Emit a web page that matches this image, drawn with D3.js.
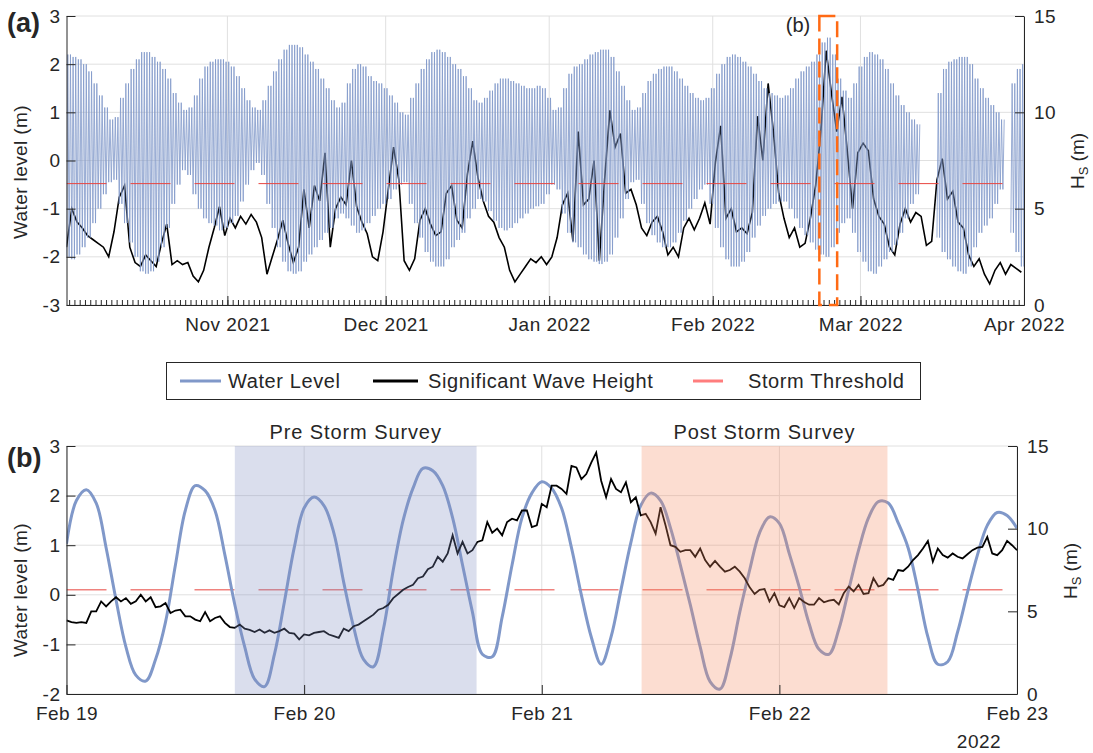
<html>
<head>
<script src="https://d3js.org/d3.v7.min.js"></script>
<style>
  body { margin: 0; background: #fff; }
  svg text { font-family: "Liberation Sans", Arial, Helvetica, sans-serif; fill: #262626; }
</style>
</head>
<body>
<div id="chart"></div>
<script>
// ---------------- data ----------------
// panel (a): one value per day, first day = 1 Oct 2021 12:00
var dailyStart = "2021-10-01T12:00";
var wlHigh = [
  2.2, 2.15, 2.1, 2.0, 1.85, 1.6, 1.35, 1.1, 0.85, 0.9,
  1.3, 1.6, 1.9, 2.1, 2.25, 2.25, 2.15, 2.05, 1.9, 1.7,
  1.4, 1.2, 1.05, 1.1, 1.35, 1.7, 1.95, 2.05, 2.1, 2.1,
  2.05, 1.95, 1.75, 1.5, 1.25, 1.1, 1.05, 1.25, 1.55, 1.85,
  2.1, 2.3, 2.4, 2.4, 2.35, 2.2, 2.05, 1.9, 1.7, 1.5,
  1.25, 1.1, 1.2, 1.6, 1.9, 2.0, 1.95, 1.75, 1.65, 1.6,
  1.5, 1.35, 1.2, 1.0, 0.95, 1.3, 1.6, 1.9, 2.1, 2.25,
  2.3, 2.25, 2.15, 2.0, 1.9, 1.75, 1.5, 1.25, 1.2, 1.3,
  1.45, 1.6, 1.7, 1.7, 1.65, 1.6, 1.55, 1.5, 1.5, 1.55,
  1.5, 1.3, 1.05, 1.1, 1.5, 1.8, 1.95, 2.0, 2.1, 2.2,
  2.25, 2.3, 2.3, 2.15, 1.85, 1.55, 1.25, 1.05, 1.1, 1.4,
  1.65, 1.8, 1.9, 1.95, 1.95, 1.85, 1.7, 1.55, 1.4, 1.3,
  1.25, 1.3, 1.5, 1.8, 2.0, 2.15, 2.2, 2.15, 2.05, 1.95,
  1.8, 1.65, 1.5, 1.4, 1.35, 1.3, 1.35, 1.5, 1.7, 1.85,
  1.95, 2.05, 2.2, 2.45, 2.55, 2.2, 1.7, 1.45, 1.3, 1.6,
  1.95, 2.15, 2.25, 2.2, 2.1, 1.9, 1.6, 1.35, 1.15, 1.0,
  0.85, 0.75, null, null, null, 1.4, 1.9, 2.05, 2.1, 2.15,
  2.15, 2.0, 1.7, 1.5, 1.3, 1.15, 1.0, 0.85, null, 1.6,
  1.9, 2.0
];
var wlLow = [
  -2.0, -2.05, -1.95, -1.8, -1.6, -1.3, -1.0, -0.7, -0.45, -0.4,
  -0.9, -1.3, -1.7, -2.0, -2.3, -2.35, -2.3, -2.1, -1.8, -1.4,
  -0.9, -0.5, -0.2, -0.3, -0.7, -1.0, -1.2, -1.3, -1.35, -1.45,
  -1.4, -1.3, -1.15, -0.85, -0.5, -0.2, -0.05, -0.3, -0.9, -1.4,
  -1.8, -2.1, -2.3, -2.35, -2.3, -2.1, -1.95, -1.8, -1.65, -1.5,
  -1.4, -1.2, -1.1, -1.2, -1.35, -1.5, -1.45, -1.3, -1.15, -1.0,
  -0.9, -0.8, -0.6, -0.5, -0.45, -0.9, -1.3, -1.6, -1.9, -2.1,
  -2.2, -2.2, -2.05, -1.8, -1.65, -1.5, -1.2, -1.0, -0.8, -0.85,
  -1.05, -1.25, -1.4, -1.45, -1.4, -1.3, -1.2, -1.1, -1.0, -0.95,
  -0.9, -0.7, -0.5, -0.6, -1.1, -1.5, -1.7, -1.8, -1.95, -2.05,
  -2.1, -2.15, -2.1, -1.95, -1.6, -1.2, -0.8, -0.45, -0.4, -0.9,
  -1.3, -1.55, -1.7, -1.8, -1.8, -1.7, -1.5, -1.25, -1.0, -0.8,
  -0.6, -0.5, -0.9, -1.4, -1.8, -2.05, -2.2, -2.2, -2.1, -1.9,
  -1.6, -1.35, -1.15, -1.0, -0.9, -0.85, -0.85, -1.0, -1.2, -1.4,
  -1.55, -1.7, -1.85, -1.95, -2.0, -1.8, -1.5, -1.3, -1.2, -1.5,
  -1.9, -2.1, -2.3, -2.35, -2.2, -2.05, -1.9, -1.75, -1.5, -1.2,
  -0.9, -0.7, null, null, null, -1.6, -1.9, -2.05, -2.2, -2.3,
  -2.35, -2.2, -1.8, -1.5, -1.35, -1.2, -0.9, -0.6, null, -1.5,
  -1.9, -2.2
];
var hsDaily = [
  3.0, 5.0, 4.3, 4.0, 3.6, 3.4, 3.2, 3.0, 2.5, 3.8,
  5.6, 6.2, 3.0, 2.2, 2.0, 2.6, 2.3, 2.0, 3.2, 4.2,
  2.1, 2.3, 2.1, 2.2, 1.5, 1.2, 1.8, 3.0, 4.0, 5.1,
  3.6, 4.5, 4.0, 4.6, 4.2, 4.7, 4.3, 3.5, 1.6, 2.5,
  3.4, 4.4, 3.2, 2.2, 3.0, 6.0, 4.0, 6.2, 5.4, 7.9,
  3.0, 5.0, 5.6, 5.2, 7.5, 5.1, 4.3, 3.7, 2.5, 2.3,
  3.8, 6.0, 8.2, 6.5, 2.3, 1.8, 2.4, 4.4, 5.0, 4.2,
  3.6, 3.8, 5.8, 6.2, 4.4, 4.0, 6.8, 8.5, 6.6, 5.4,
  4.6, 4.3, 3.5, 3.0, 1.8, 1.2, 1.6, 2.0, 2.4, 2.2,
  2.5, 2.1, 2.5, 3.5, 5.2, 5.8, 3.3, 9.0, 5.2, 5.5,
  7.5, 2.3, 6.5, 10.1, 8.2, 8.9, 5.8, 6.0, 5.2, 4.0,
  3.6, 4.3, 4.6, 3.8, 2.6, 3.0, 2.5, 4.0, 4.5, 3.9,
  4.5, 5.3, 4.2, 7.4, 9.3, 4.5, 5.0, 3.8, 4.0, 3.7,
  4.8, 9.8, 7.5, 11.5, 9.0, 5.8, 4.5, 3.5, 4.0, 3.0,
  3.2, 4.5, 6.2, 9.0, 13.2, 11.0, 9.0, 10.8, 8.0, 5.0,
  7.9, 8.4, 8.0, 5.5, 4.6, 4.2, 3.0, 2.6, 4.2, 5.0,
  4.3, 4.8, 4.6, 3.1, 3.3, 6.5, 7.6, 5.5, 5.9, 4.3,
  4.0, 2.6, 2.0, 2.4, 1.6, 1.1, 1.8, 2.2, 1.6, 2.1,
  1.9, 1.7
];
var rangeA = ["2021-10-01T12:00", "2022-04-01T00:00"];
var boxB = ["2022-02-21T05:00", "2022-02-24T14:00"];

// panel (b): hourly water level and half-hourly Hs from 19 Feb 2022 00:00
var zoomStart = "2022-02-19T00:00";
var wlHourly = [
  1.03, 1.9, 2.12, 1.85, 0.95, -0.1, -1.05, -1.62, -1.74, -1.3,
  -0.55, 0.6, 1.7, 2.2, 2.1, 1.7, 0.8, -0.2, -1.05, -1.7,
  -1.85, -1.2, -0.15, 0.95, 1.75, 1.97, 1.8, 1.25, 0.25, -0.65,
  -1.3, -1.45, -0.7, 0.5, 1.5, 2.15, 2.55, 2.5, 2.2, 1.55,
  0.6, -0.35, -1.2, -1.25, -0.45, 0.6, 1.55, 2.05, 2.28, 2.15,
  1.75, 0.95, 0.0, -0.85, -1.4, -0.85, 0.1, 1.05, 1.8, 2.05,
  1.9, 1.35, 0.6, -0.2, -1.05, -1.75, -1.9, -1.3, -0.35, 0.5,
  1.25, 1.57, 1.44, 0.83, 0.16, -0.58, -1.1, -1.2, -0.7, 0.1,
  0.9, 1.55, 1.88, 1.85, 1.45, 0.95, 0.1, -0.85, -1.4, -1.35,
  -0.75, 0.05, 0.8, 1.4, 1.66, 1.6, 1.34
];
var hsHalfHourly = [
  4.45, 4.35, 4.3, 4.35, 4.3, 5.0, 5.0, 5.6, 5.3, 5.6,
  5.85, 5.6, 5.8, 5.45, 5.6, 6.0, 5.6, 5.85, 5.25, 5.3,
  5.5, 4.9, 5.05, 5.1, 4.7, 4.7, 4.5, 4.4, 4.95, 4.4,
  4.6, 4.7, 4.3, 4.05, 4.0, 4.2, 3.95, 3.88, 3.75, 3.9,
  3.7, 3.85, 3.7, 3.8, 3.95, 3.7, 3.65, 3.3, 3.6, 3.55,
  3.7, 3.75, 3.8, 3.6, 3.5, 3.4, 3.95, 3.8, 4.1, 4.2,
  4.4, 4.6, 4.8, 5.1, 5.2, 5.4, 5.8, 6.05, 6.3, 6.47,
  6.6, 7.0, 7.1, 7.55, 7.7, 8.3, 8.0, 8.5, 9.6, 8.5,
  9.2, 8.5, 8.7, 9.2, 9.3, 10.4, 9.75, 10.0, 9.6, 10.4,
  10.6, 10.5, 11.1, 11.1, 10.1, 10.2, 11.5, 11.3, 12.6, 12.6,
  12.4, 12.1, 13.8, 13.7, 13.0, 13.3, 14.0, 14.6, 12.9, 11.9,
  13.0, 12.4, 12.2, 12.8, 11.6, 11.9, 10.8, 10.9, 10.4, 9.7,
  11.3, 10.2, 9.0, 8.9, 8.6, 8.7, 8.7, 8.3, 8.8, 8.1,
  7.7, 8.05, 7.7, 7.4, 7.5, 7.7, 7.4, 7.0, 6.45, 6.05,
  6.3, 6.35, 5.6, 6.1, 5.36, 5.26, 5.8, 5.2, 5.8, 5.57,
  5.4, 5.4, 5.8, 5.55, 5.65, 5.7, 5.42, 6.1, 6.5, 6.2,
  6.6, 6.05, 6.1, 7.0, 6.5, 6.6, 7.0, 6.9, 7.5, 7.44,
  7.7, 8.1, 8.4, 8.8, 9.26, 8.0, 8.8, 8.4, 8.25, 8.5,
  8.3, 8.2, 8.45, 8.7, 8.85, 8.9, 9.5, 8.5, 8.4, 8.7,
  9.26, 9.0, 8.7
];
var rangeB = ["2022-02-19T00:00", "2022-02-23T00:00"];
var surveyNames = ["Pre Storm Survey", "Post Storm Survey"];
var surveyStart = ["2022-02-19T17:00", "2022-02-21T10:05"];
var surveyEnd = ["2022-02-20T17:25", "2022-02-22T10:55"];
var stormThreshold = 6.3;

var ticksLeftA = [-3, -2, -1, 0, 1, 2, 3];
var ticksLeftB = [-2, -1, 0, 1, 2, 3];
var ticksRight = [0, 5, 10, 15];
var legendNames = ["Water Level", "Significant Wave Height", "Storm Threshold"];

// ---------------- drawing ----------------
var INK = "#262626", GRID = "#e0e0e0", BLUE = "#8098c9", RED = "#e8453f";
var parseT = d3.timeParse("%Y-%m-%dT%H:%M");

var svg = d3.select("#chart").append("svg")
    .attr("width", 1093).attr("height", 753);

function styleAxis(g, fs) {
  g.attr("font-family", null).attr("font-size", null);
  g.select(".domain").attr("stroke", INK);
  g.selectAll(".tick line").attr("stroke", INK);
  g.selectAll(".tick text").attr("fill", INK)
    .style("font-size", fs + "px").style("letter-spacing", "0.5px");
}

function hsLabel(x, y) {
  var t = svg.append("text")
      .attr("transform", "translate(" + x + "," + y + ") rotate(-90)")
      .attr("text-anchor", "middle")
      .style("font-size", "19px");
  t.append("tspan").text("H");
  t.append("tspan").text("S").style("font-size", "13px").attr("dy", 4);
  t.append("tspan").text(" (m)").attr("dy", -4);
}

// ====== panel (a) ======
var A = {left: 66.5, right: 1024, top: 16, bottom: 305};
var xA = d3.scaleTime().domain(rangeA.map(parseT)).range([A.left, A.right]);
var yA = d3.scaleLinear().domain([-3, 3]).range([A.bottom, A.top]);
var hA = d3.scaleLinear().domain([0, 15]).range([A.bottom, A.top]);

svg.append("clipPath").attr("id", "clipA").append("rect")
  .attr("x", A.left).attr("y", A.top).attr("width", A.right - A.left).attr("height", A.bottom - A.top);

var gA = svg.append("g");
// grid
gA.selectAll(".hg").data(ticksLeftA).enter().append("line")
  .attr("x1", A.left).attr("x2", A.right)
  .attr("y1", function(d){ return yA(d); }).attr("y2", function(d){ return yA(d); })
  .attr("stroke", GRID);
gA.selectAll(".vg").data(xA.ticks(d3.timeMonth)).enter().append("line")
  .attr("x1", function(d){ return xA(d); }).attr("x2", function(d){ return xA(d); })
  .attr("y1", A.top).attr("y2", A.bottom)
  .attr("stroke", GRID);

var t0A = parseT(dailyStart);
var plotA = gA.append("g").attr("clip-path", "url(#clipA)");

// wave height first, partly hidden by the tide strokes
plotA.append("path").datum(hsDaily)
  .attr("fill", "none").attr("stroke", "#000").attr("stroke-width", 1.6)
  .attr("d", d3.line()
    .x(function(d, i){ return xA(d3.timeHour.offset(t0A, i * 24)); })
    .y(function(d){ return hA(d); }));

// water level: low / high / low / high each day
var wlPts = [];
wlHigh.forEach(function(hi, i) {
  var lo = wlLow[i];
  [lo, hi, lo, hi].forEach(function(v, k) {
    wlPts.push({t: d3.timeHour.offset(t0A, i * 24 + k * 6), v: v});
  });
});
plotA.append("path").datum(wlPts)
  .attr("fill", "none").attr("stroke", BLUE).attr("stroke-width", 0.8)
  .attr("d", d3.line().defined(function(d){ return d.v != null; })
    .x(function(d){ return xA(d.t); }).y(function(d){ return yA(d.v); }));

plotA.append("line")
  .attr("x1", A.left).attr("x2", A.right)
  .attr("y1", hA(stormThreshold)).attr("y2", hA(stormThreshold))
  .attr("stroke", RED).attr("stroke-width", 1).attr("stroke-dasharray", "40,24");

// axes
var axA = gA.append("g").attr("transform", "translate(0," + A.bottom + ")")
  .call(d3.axisBottom(xA).ticks(d3.timeDay).tickSize(-5).tickSizeOuter(0).tickFormat(""));
styleAxis(axA, 19);
var axA2 = gA.append("g").attr("transform", "translate(0," + A.bottom + ")")
  .call(d3.axisBottom(xA).ticks(d3.timeMonth).tickSize(-9).tickSizeOuter(0)
    .tickPadding(13).tickFormat(d3.timeFormat("%b %Y")));
styleAxis(axA2, 19);
var ayA = gA.append("g").attr("transform", "translate(" + A.left + ",0)")
  .call(d3.axisLeft(yA).tickValues(ticksLeftA).tickSize(-9).tickSizeOuter(0).tickPadding(6)
    .tickFormat(function(d){ return String(d); }));
styleAxis(ayA, 19);
var arA = gA.append("g").attr("transform", "translate(" + A.right + ",0)")
  .call(d3.axisRight(hA).tickValues(ticksRight).tickSize(-9).tickSizeOuter(0).tickPadding(10));
styleAxis(arA, 19);

// survey window box
gA.append("rect")
  .attr("x", xA(parseT(boxB[0]))).attr("y", A.top)
  .attr("width", xA(parseT(boxB[1])) - xA(parseT(boxB[0]))).attr("height", A.bottom - A.top)
  .attr("fill", "none").attr("stroke", "#ff6a14").attr("stroke-width", 2.5)
  .attr("stroke-dasharray", "16,7");
svg.append("text").attr("x", 798).attr("y", 32).attr("text-anchor", "middle")
  .style("font-size", "20px").text("(b)");

svg.append("text").attr("x", 7).attr("y", 32)
  .style("font-size", "27px").style("font-weight", "bold").text("(a)");
svg.append("text").attr("transform", "translate(27,172) rotate(-90)")
  .attr("text-anchor", "middle").style("font-size", "19px").style("letter-spacing", "0.4px")
  .text("Water level (m)");
hsLabel(1084, 161);

// ====== legend ======
var lg = svg.append("g");
lg.append("rect").attr("x", 166.5).attr("y", 362.5).attr("width", 754).attr("height", 37)
  .attr("fill", "#fff").attr("stroke", INK).attr("stroke-width", 1);
var legendX = [[180, 221, 228], [373, 418, 428], [693, 723, 748]];
var legendCol = [BLUE, "#000", "#ff7d7d"];
legendNames.forEach(function(name, i) {
  lg.append("line").attr("x1", legendX[i][0]).attr("x2", legendX[i][1])
    .attr("y1", 381).attr("y2", 381).attr("stroke", legendCol[i]).attr("stroke-width", 3);
  lg.append("text").attr("x", legendX[i][2]).attr("y", 388)
    .style("font-size", "20px").style("letter-spacing", "0.6px").text(name);
});

// ====== panel (b) ======
var B = {left: 66.5, right: 1017, top: 446, bottom: 694};
var xB = d3.scaleTime().domain(rangeB.map(parseT)).range([B.left, B.right]);
var yB = d3.scaleLinear().domain([-2, 3]).range([B.bottom, B.top]);
var hB = d3.scaleLinear().domain([0, 15]).range([B.bottom, B.top]);
var t0B = parseT(zoomStart);

svg.append("clipPath").attr("id", "clipB").append("rect")
  .attr("x", B.left).attr("y", B.top).attr("width", B.right - B.left).attr("height", B.bottom - B.top);

var gB = svg.append("g");
gB.selectAll(".hg").data(ticksLeftB).enter().append("line")
  .attr("x1", B.left).attr("x2", B.right)
  .attr("y1", function(d){ return yB(d); }).attr("y2", function(d){ return yB(d); })
  .attr("stroke", GRID);
gB.selectAll(".vg").data(xB.ticks(d3.timeDay)).enter().append("line")
  .attr("x1", function(d){ return xB(d); }).attr("x2", function(d){ return xB(d); })
  .attr("y1", B.top).attr("y2", B.bottom)
  .attr("stroke", GRID);

var plotB = gB.append("g").attr("clip-path", "url(#clipB)");
plotB.append("line")
  .attr("x1", B.left).attr("x2", B.right)
  .attr("y1", hB(stormThreshold)).attr("y2", hB(stormThreshold))
  .attr("stroke", RED).attr("stroke-width", 1).attr("stroke-dasharray", "40,24");

plotB.append("path").datum(wlHourly)
  .attr("fill", "none").attr("stroke", BLUE).attr("stroke-width", 3)
  .attr("d", d3.line().curve(d3.curveCatmullRom)
    .x(function(d, i){ return xB(d3.timeHour.offset(t0B, i)); })
    .y(function(d){ return yB(d); }));

plotB.append("path").datum(hsHalfHourly)
  .attr("fill", "none").attr("stroke", "#000").attr("stroke-width", 1.8)
  .attr("stroke-linejoin", "miter")
  .attr("d", d3.line()
    .x(function(d, i){ return xB(d3.timeMinute.offset(t0B, i * 30)); })
    .y(function(d){ return hB(d); }));

var shadeCol = ["#7f8fc0", "#f58a62"];
surveyNames.forEach(function(name, i) {
  var x0 = xB(parseT(surveyStart[i])), x1 = xB(parseT(surveyEnd[i]));
  gB.append("rect").attr("x", x0).attr("y", B.top).attr("width", x1 - x0).attr("height", B.bottom - B.top)
    .attr("fill", shadeCol[i]).attr("fill-opacity", 0.29);
  svg.append("text").attr("x", (x0 + x1) / 2).attr("y", 439).attr("text-anchor", "middle")
    .style("font-size", "20px").style("letter-spacing", "0.9px").text(name);
});

var axB = gB.append("g").attr("transform", "translate(0," + B.bottom + ")")
  .call(d3.axisBottom(xB).ticks(d3.timeDay).tickSize(-9).tickSizeOuter(0)
    .tickPadding(13).tickFormat(d3.timeFormat("%b %-d")));
styleAxis(axB, 19);
var ayB = gB.append("g").attr("transform", "translate(" + B.left + ",0)")
  .call(d3.axisLeft(yB).tickValues(ticksLeftB).tickSize(-9).tickSizeOuter(0).tickPadding(6)
    .tickFormat(function(d){ return String(d); }));
styleAxis(ayB, 19);
var arB = gB.append("g").attr("transform", "translate(" + B.right + ",0)")
  .call(d3.axisRight(hB).tickValues(ticksRight).tickSize(-9).tickSizeOuter(0).tickPadding(10));
styleAxis(arB, 19);

svg.append("text").attr("x", 979).attr("y", 748).attr("text-anchor", "middle")
  .style("font-size", "19px").style("letter-spacing", "0.5px").text("2022");
svg.append("text").attr("x", 7).attr("y", 467)
  .style("font-size", "27px").style("font-weight", "bold").text("(b)");
svg.append("text").attr("transform", "translate(27,590) rotate(-90)")
  .attr("text-anchor", "middle").style("font-size", "19px").style("letter-spacing", "0.4px")
  .text("Water level (m)");
hsLabel(1077, 571);
</script>
</body>
</html>
